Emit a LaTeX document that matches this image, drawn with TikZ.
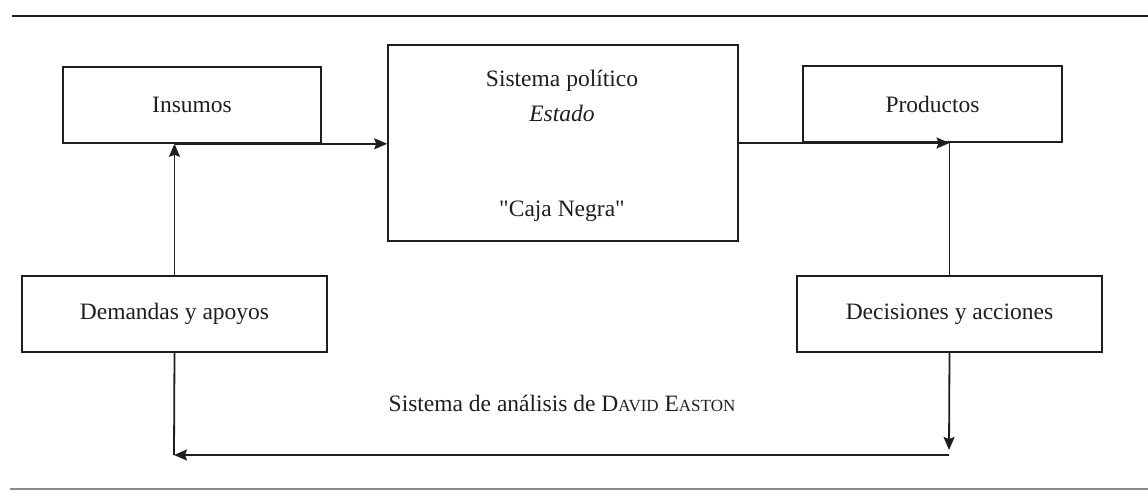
\documentclass[tikz,border=0pt]{standalone}
\usepackage{fontspec}
\setmainfont{Liberation Serif}[Ligatures=TeXOff]
\usetikzlibrary{arrows.meta}
\definecolor{ink}{HTML}{1E1E1E}
\definecolor{rule}{HTML}{8A8A8A}
\tikzset{
  box/.style={draw=ink, line width=1.6pt, inner sep=0pt, text=ink},
  lbl/.style={inner sep=0pt, text=ink},
  conn/.style={draw=ink, line width=1.8pt},
  arr/.style={conn, -{Stealth[length=13pt,width=11pt,inset=2pt]}},
}
\begin{document}
\begin{tikzpicture}[x=1pt,y=-1pt,font=\fontsize{23.5}{28}\selectfont]
\useasboundingbox (0,0) rectangle (1148,490);
% rules
\draw[draw=ink, line width=1.8pt] (12,16) -- (1148,16);
\draw[draw=rule, line width=1.8pt] (10,489) -- (1148,489);
% boxes
\node[box, minimum width=258pt, minimum height=76pt] (ins) at (192,105) {Insumos};
\node[box, minimum width=350pt, minimum height=196pt] (sys) at (563,143) {};
\node[lbl] (t1) at (562,81) {Sistema político};
\node[lbl] (t2) at (562,113) {\itshape Estado};
\node[lbl] (t3) at (562,211) {"Caja Negra"};
\node[box, minimum width=259pt, minimum height=76pt] (pro) at (932.5,104) {Productos};
\node[box, minimum width=305pt, minimum height=76pt] (dem) at (174.5,314) {Demandas y apoyos};
\node[box, minimum width=305pt, minimum height=76pt] (dec) at (949.5,314) {Decisiones y acciones};
\node[lbl] (cap) at (562,403) {Sistema de análisis de D{\fontsize{17}{20}\selectfont AVID} E{\fontsize{17}{20}\selectfont ASTON}};
% connector points
\coordinate (insj) at (dem.north |- ins.south);
\coordinate (proj) at (dec.north |- sys.east);
\coordinate (bd) at (949,450);
\coordinate (br) at (949,455);
\coordinate (bl) at (174,455);
% connectors
\draw[arr] (dem.north) -- (insj);
\draw[arr] (insj) -- (sys.west |- insj);
\draw[arr] (sys.east) -- (proj);
\draw[conn] (proj) -- (dec.north);
\draw[arr] (dec.south) -- (bd);
\draw[arr] (br) -- (bl);
\draw[conn] (dem.south) -- (bl);
\end{tikzpicture}
\end{document}
